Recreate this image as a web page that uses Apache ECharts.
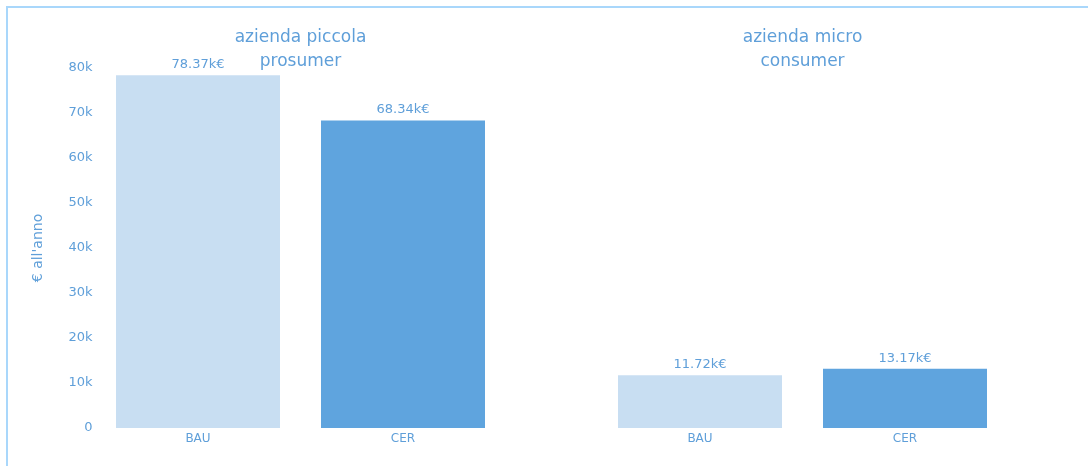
<!DOCTYPE html>
<html>
<head>
    <meta charset="utf-8">
    <title>index</title>
    <style>
        html, body { margin: 0; padding: 0; background: #fff; }
        #container { width: 1088px; height: 466px; }
    </style>
</head>
<body>
    <div id="container"></div>
    <script src="https://cdn.jsdelivr.net/npm/echarts@6/dist/echarts.min.js"></script>
    <script type="text/javascript">
        // dati
        var categories = ['BAU', 'CER'];
        var groupTitles = ['azienda piccola\nprosumer', 'azienda micro\nconsumer'];
        var piccolaValues = [78370, 68340];
        var microValues = [11720, 13170];
        var yTicks = [0, 10000, 20000, 30000, 40000, 50000, 60000, 70000, 80000];

        var barColors = ['#c8def2', '#5fa4de'];
        var textColor = '#5f9fd9';
        var font = 'DejaVu Sans';

        var dom = document.getElementById('container');
        var myChart = echarts.init(dom);

        function makeData(values) {
            return values.map(function (v, i) {
                return { value: v, itemStyle: { color: barColors[i] } };
            });
        }

        var grids = [
            { left: 95.5, top: 68, width: 410, height: 360 },
            { left: 597.5, top: 68, width: 410, height: 360 }
        ];

        var option = {
            backgroundColor: '#fff',
            animation: false,
            graphic: [{
                type: 'rect',
                shape: { x: 7, y: 7, width: 1100, height: 480 },
                style: { fill: 'none', stroke: '#a9d7fb', lineWidth: 2 },
                silent: true
            }],
            title: groupTitles.map(function (t, i) {
                // centrato sopra la griglia
                return {
                    text: t,
                    left: grids[i].left + grids[i].width / 2 - 5,
                    top: 21,
                    textAlign: 'center',
                    textStyle: {
                        color: textColor,
                        fontFamily: font,
                        fontSize: 17,
                        fontWeight: 'normal',
                        lineHeight: 24
                    }
                };
            }),
            grid: grids,
            xAxis: [0, 1].map(function (i) {
                return {
                    type: 'category',
                    gridIndex: i,
                    data: categories,
                    axisLine: { show: false },
                    axisTick: { show: false },
                    axisLabel: { color: textColor, fontFamily: font, fontSize: 12, margin: 5 }
                };
            }),
            yAxis: [0, 1].map(function (i) {
                return {
                    type: 'value',
                    gridIndex: i,
                    min: yTicks[0],
                    max: yTicks[yTicks.length - 1],
                    interval: yTicks[1] - yTicks[0],
                    name: i === 0 ? "€ all'anno" : '',
                    nameLocation: 'middle',
                    nameGap: 50,
                    nameTextStyle: { color: textColor, fontFamily: font, fontSize: 14 },
                    axisLine: { show: false },
                    axisTick: { show: false },
                    splitLine: { show: false },
                    axisLabel: {
                        show: i === 0,
                        color: textColor,
                        fontFamily: font,
                        fontSize: 13,
                        margin: 3,
                        formatter: function (v) { return v === 0 ? '0' : (v / 1000) + 'k'; }
                    }
                };
            }),
            series: [piccolaValues, microValues].map(function (vals, i) {
                return {
                    type: 'bar',
                    xAxisIndex: i,
                    yAxisIndex: i,
                    barCategoryGap: '20%',
                    data: makeData(vals),
                    label: {
                        show: true,
                        position: 'top',
                        distance: 4,
                        color: textColor,
                        fontFamily: font,
                        fontSize: 13,
                        formatter: function (p) { return (p.value / 1000).toFixed(2) + 'k€'; }
                    }
                };
            })
        };

        myChart.setOption(option, true);
    </script>
</body>
</html>
